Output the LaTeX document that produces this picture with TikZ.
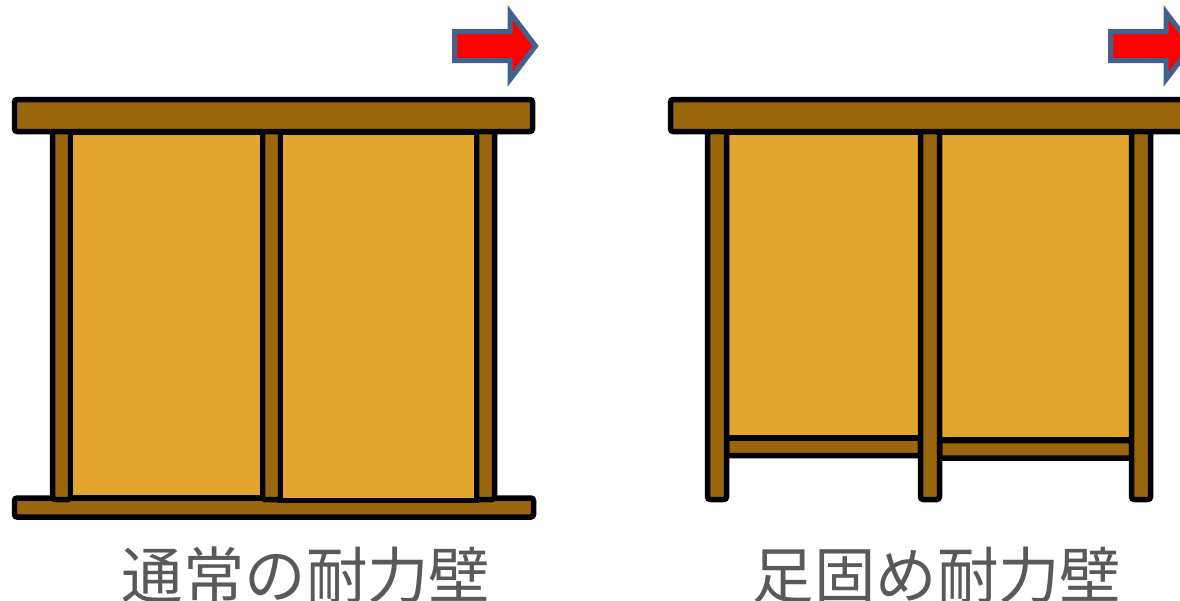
\documentclass[tikz,border=0pt]{standalone}
\usepackage{fontspec}
\newfontfamily\jpfont{Noto Sans CJK JP}
\usetikzlibrary{positioning}

\definecolor{beam}{RGB}{153,102,13}
\definecolor{board}{RGB}{226,165,45}
\definecolor{arrowline}{RGB}{65,97,143}
\definecolor{caption}{RGB}{89,89,89}

\tikzset{
    wood/.style={draw=black, line width=0.11cm, rounded corners=1.5pt, fill=beam},
    panel/.style={draw=black, line width=0.11cm, fill=board},
    push/.style={draw=arrowline, line width=0.1cm, fill=red, line join=miter},
    label/.style={font=\jpfont\fontsize{35}{35}\selectfont, text=caption}
}

\begin{document}
\begin{tikzpicture}[x=0.02cm, y=-0.02cm]
    \useasboundingbox (0,0) rectangle (1180,600);
    \clip (0,0) rectangle (1180,600);

    % ordinary wall
    \draw[wood] (14.5,498) rectangle (533.5,517);
    \foreach \x in {52.5, 262.5, 476.5}
        \draw[wood] (\x,130) rectangle ({\x+18},499.5);
    \draw[panel] (70.5,132) rectangle (262.5,498);
    \draw[panel] (280.5,132) rectangle (476.5,500.5);
    \draw[wood] (14.5,99.5) rectangle (532.5,131.5);
    \draw[push] (454.5,31.5) -- (510,31.5) -- (510,12.5) -- (535.5,46)
        -- (510,79.5) -- (510,60.5) -- (454.5,60.5) -- cycle;

    % wall with sill plates
    \draw[panel] (726.5,132) rectangle (920.5,438);
    \draw[panel] (939.5,132) rectangle (1131.5,440);
    \draw[wood] (726.5,438) rectangle (920.5,455.5);
    \draw[wood] (939.5,440.5) rectangle (1131.5,458);
    \foreach \x in {707.5, 920.5, 1131.5}
        \draw[wood] (\x,130) rectangle ({\x+19},499.5);
    \draw[wood] (670.5,99.5) rectangle (1195,131.5);
    \draw[push] (1110.5,31.5) -- (1166,31.5) -- (1166,12.5) -- (1191.5,46)
        -- (1166,79.5) -- (1166,60.5) -- (1110.5,60.5) -- cycle;

    \node[label] (normal) at (306,575) {通常の耐力壁};
    \node[label] (footed) at (937,575) {足固め耐力壁};
\end{tikzpicture}
\end{document}
